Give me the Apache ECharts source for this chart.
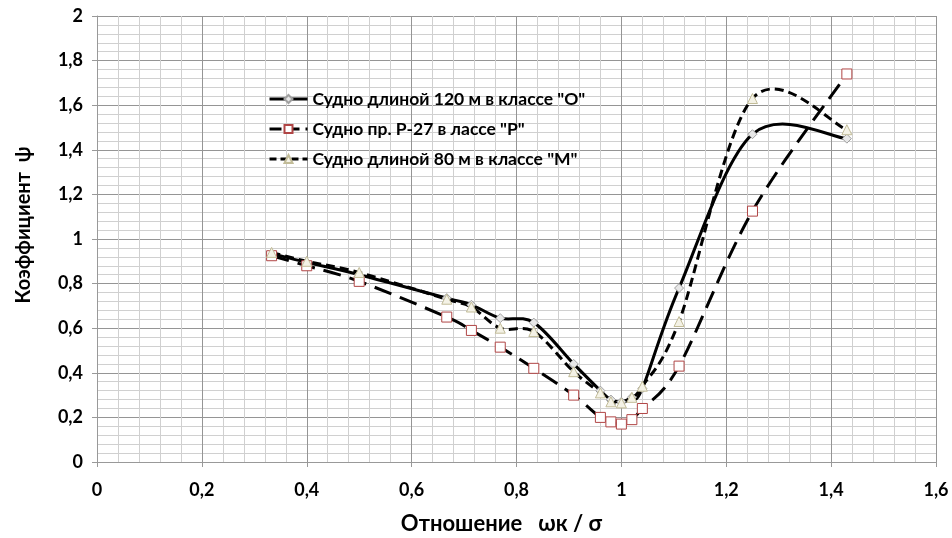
<!DOCTYPE html>
<html>
<head>
<meta charset="utf-8">
<script src="https://cdn.jsdelivr.net/npm/echarts@6/dist/echarts.min.js"></script>
<style>html,body{margin:0;padding:0;background:#fff}#c{width:952px;height:538px}</style>
</head>
<body>
<div id="c"></div>
<script>
const xValues = [0.333, 0.4, 0.5, 0.667, 0.714, 0.769, 0.833, 0.909, 0.96, 0.98, 1.0, 1.02, 1.04, 1.11, 1.25, 1.43];
const seriesNames = ['Судно длиной 120 м в классе "О"', 'Судно пр. Р-27 в лассе "Р"', 'Судно длиной 80 м в классе "М"'];
const vessel120 = [0.935, 0.895, 0.84, 0.735, 0.705, 0.645, 0.625, 0.44, 0.32, 0.28, 0.27, 0.29, 0.33, 0.78, 1.47, 1.45];
const vesselP27 = [0.925, 0.88, 0.81, 0.65, 0.59, 0.515, 0.42, 0.30, 0.20, 0.18, 0.17, 0.19, 0.24, 0.43, 1.125, 1.74];
const vessel80 = [0.94, 0.90, 0.85, 0.73, 0.695, 0.60, 0.585, 0.405, 0.31, 0.27, 0.265, 0.29, 0.34, 0.63, 1.63, 1.49];
const xTitle = 'Отношение   ωк / σ';
const yTitle = 'Коэффициент  ψ';

const pairs = ys => xValues.map((x, i) => [x, ys[i]]);
const fmt = v => String(+v.toFixed(1)).replace('.', ',');
const FONT = 'Lato';

// Excel-like (Catmull-Rom) smoothed curve drawn through the axis scales
function curveSeries(ys, dash, z) {
  return {
    type: 'custom', coordinateSystem: 'cartesian2d', clip: false, silent: true, z: z,
    encode: {x: 0, y: 1},
    data: pairs(ys),
    renderItem: function (params, api) {
      if (params.dataIndex !== 0) return null;
      const p = xValues.map((x, i) => api.coord([x, ys[i]]));
      const n = p.length;
      let d = 'M' + p[0][0] + ' ' + p[0][1];
      for (let i = 0; i < n - 1; i++) {
        const p0 = p[i - 1] || p[i], p1 = p[i], p2 = p[i + 1], p3 = p[i + 2] || p[i + 1];
        const c1x = p1[0] + (p2[0] - p0[0]) / 6, c1y = p1[1] + (p2[1] - p0[1]) / 6;
        const c2x = p2[0] - (p3[0] - p1[0]) / 6, c2y = p2[1] - (p3[1] - p1[1]) / 6;
        d += ' C' + c1x + ' ' + c1y + ' ' + c2x + ' ' + c2y + ' ' + p2[0] + ' ' + p2[1];
      }
      return {
        type: 'path',
        shape: {pathData: d},
        style: {fill: 'none', stroke: '#000', lineWidth: 3, lineDash: dash, lineCap: 'butt', lineJoin: 'round'}
      };
    }
  };
}

const legendLine = (type) => ({color: '#000', width: 3, type: type, opacity: 1});

const chart = echarts.init(document.getElementById('c'), null, {renderer: 'canvas'});
chart.setOption({
  animation: false,
  backgroundColor: '#fff',
  grid: {left: 97, right: 16, top: 16, bottom: 76, outerBoundsMode: 'none', containLabel: false},
  legend: {
    orient: 'vertical', left: 263, top: 85, itemWidth: 38, itemHeight: 10, itemGap: 12,
    textStyle: {fontFamily: FONT, fontWeight: 'bold', fontSize: 17.5, color: '#000'},
    data: [
      {name: seriesNames[0], lineStyle: legendLine('solid')},
      {name: seriesNames[1], lineStyle: legendLine([12, 6])},
      {name: seriesNames[2], lineStyle: legendLine([7, 4])}
    ]
  },
  xAxis: {
    type: 'value', min: 0, max: 1.6, interval: 0.2,
    name: xTitle, nameLocation: 'middle', nameGap: 51,
    nameTextStyle: {fontFamily: FONT, fontWeight: 'bold', fontSize: 22, color: '#000', padding: [0, 30, 0, 0]},
    axisLine: {lineStyle: {color: '#999', width: 1}},
    axisTick: {show: true, length: 5, lineStyle: {color: '#999'}},
    axisLabel: {margin: 19, formatter: fmt, fontFamily: FONT, fontWeight: 'bold', fontSize: 18, color: '#000'},
    splitLine: {show: true, lineStyle: {color: '#959595', width: 1}},
    minorTick: {show: false, splitNumber: 5},
    minorSplitLine: {show: true, lineStyle: {color: '#d0d0d0', width: 1}}
  },
  yAxis: {
    type: 'value', min: 0, max: 2, interval: 0.2,
    name: yTitle, nameLocation: 'middle', nameGap: 63,
    nameTextStyle: {fontFamily: FONT, fontWeight: 'bold', fontSize: 20, color: '#000', padding: [0, 0, 0, 28]},
    axisLine: {show: true, lineStyle: {color: '#999', width: 1}},
    axisTick: {show: true, length: 5, lineStyle: {color: '#999'}},
    axisLabel: {margin: 14, formatter: fmt, fontFamily: FONT, fontWeight: 'bold', fontSize: 18, color: '#000'},
    splitLine: {show: true, lineStyle: {color: '#959595', width: 1}},
    minorTick: {show: false, splitNumber: 5},
    minorSplitLine: {show: true, lineStyle: {color: '#d0d0d0', width: 1}}
  },
  series: [
    curveSeries(vessel120, null, 2),
    curveSeries(vesselP27, [18, 9], 2),
    curveSeries(vessel80, [9, 5], 2),
    {
      name: seriesNames[0], type: 'line', data: pairs(vessel120), z: 4,
      symbol: 'diamond', symbolSize: 9,
      lineStyle: {color: '#000', width: 3, opacity: 0},
      itemStyle: {color: '#e8e8e8', borderColor: '#a0a0a0', borderWidth: 1}
    },
    {
      name: seriesNames[1], type: 'line', data: pairs(vesselP27), z: 4,
      symbol: 'rect', symbolSize: 10,
      lineStyle: {color: '#000', width: 3, opacity: 0},
      itemStyle: {color: '#fff', borderColor: '#b04545', borderWidth: 1}
    },
    {
      name: seriesNames[2], type: 'line', data: pairs(vessel80), z: 4,
      symbol: 'triangle', symbolSize: 10,
      lineStyle: {color: '#000', width: 3, opacity: 0},
      itemStyle: {color: '#f4f2e6', borderColor: '#c2bc98', borderWidth: 1}
    }
  ]
});
</script>
</body>
</html>
